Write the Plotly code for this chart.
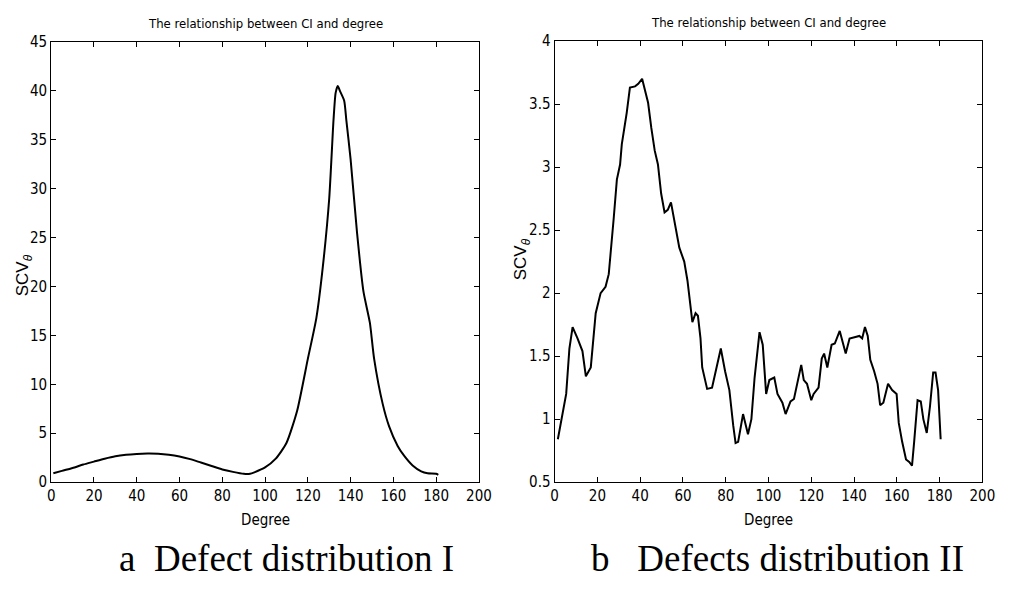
import plotly.graph_objects as go

# ---- data: panel a (Defect distribution I) ----
deg_a = [1, 5, 10, 15, 20, 25, 30, 35, 40, 45, 50, 55, 60, 65, 70, 75, 80, 85, 90, 93,
         95, 100, 105, 110, 115, 120, 124, 127, 130, 132, 133, 134, 135, 137, 138, 140,
         143, 146, 149, 151, 155, 158, 162, 165, 169, 173, 176, 180, 181]
scv_a = [0.9, 1.15, 1.45, 1.8, 2.1, 2.4, 2.65, 2.8, 2.88, 2.92, 2.9, 2.8, 2.62, 2.35, 2.0,
         1.65, 1.3, 1.05, 0.85, 0.85, 1.0, 1.5, 2.4, 4.0, 7.3, 12.6, 16.8, 22.0, 29.0, 37.0,
         39.8, 40.5, 40.0, 39.0, 37.0, 33.0, 25.5, 19.5, 16.3, 12.6, 8.0, 5.7, 3.7, 2.7,
         1.7, 1.1, 0.9, 0.85, 0.75]

# ---- data: panel b (Defects distribution II) ----
deg_b = [1.5, 3.1, 5.4, 6.9, 8.4, 10.7, 13.0, 14.6, 16.9, 19.2, 21.5, 23.8, 25.3, 27.6,
         29.1, 30.6, 31.4, 33.7, 35.2, 37.6, 39.1, 40.9, 43.7, 45.2, 46.8, 48.3, 49.8,
         51.4, 52.9, 54.4, 55.9, 58.3, 60.6, 62.1, 64.4, 65.9, 67.0, 68.2, 69.0, 71.3,
         73.6, 75.9, 77.7, 79.7, 81.7, 83.5, 84.6, 85.8, 88.1, 90.4, 92.0, 93.5, 95.8,
         97.3, 98.9, 100.4, 102.7, 104.2, 106.5, 108.0, 110.3, 111.9, 113.4, 115.3,
         116.5, 118.0, 120.0, 121.1, 123.4, 124.9, 126.0, 127.5, 129.5, 131.0, 133.3,
         136.1, 137.9, 140.2, 142.5, 143.8, 145.1, 146.4, 147.6, 149.4, 151.0, 152.2,
         153.7, 155.9, 157.8, 159.9, 160.9, 162.5, 164.3, 165.8, 167.1, 168.1, 169.7,
         171.2, 172.4, 174.0, 175.5, 177.0, 178.1, 179.3, 180.5]
scv_b = [0.84, 1.0, 1.2, 1.56, 1.73, 1.64, 1.54, 1.34, 1.41, 1.84, 2.0, 2.05, 2.15, 2.59,
         2.9, 3.02, 3.18, 3.43, 3.63, 3.64, 3.66, 3.70, 3.51, 3.31, 3.13, 3.02, 2.79,
         2.64, 2.66, 2.72, 2.59, 2.36, 2.25, 2.1, 1.77, 1.84, 1.82, 1.64, 1.41, 1.24,
         1.25, 1.41, 1.56, 1.38, 1.23, 0.95, 0.81, 0.82, 1.04, 0.88, 1.0, 1.33, 1.69,
         1.59, 1.2, 1.31, 1.33, 1.2, 1.13, 1.04, 1.14, 1.16, 1.28, 1.43, 1.31, 1.28,
         1.15, 1.2, 1.25, 1.48, 1.52, 1.41, 1.59, 1.6, 1.7, 1.52, 1.64, 1.65, 1.66,
         1.64, 1.73, 1.66, 1.47, 1.38, 1.28, 1.11, 1.13, 1.28, 1.23, 1.2, 0.97, 0.82,
         0.68, 0.66, 0.63, 0.82, 1.15, 1.14, 1.0, 0.89, 1.1, 1.37, 1.37, 1.23, 0.84]

title_text = "The relationship between CI and degree"
xlabel = "Degree"
ylabel = "SCV<sub><i>θ</i></sub>"
caption_a = "a&nbsp;&nbsp;Defect distribution I"
caption_b = "b&nbsp;&nbsp;&nbsp;Defects distribution II"

W, H = 1017, 591
NARROW = "DejaVu Sans Condensed, Liberation Sans Narrow, Arial Narrow, sans-serif"
SANS = "Liberation Sans, Arial, sans-serif"
SERIF = "Liberation Serif, Times New Roman, serif"

def px(x):
    return x / W

def py(y):
    return (H - y) / H

fig = go.Figure()
fig.add_trace(go.Scatter(x=deg_a, y=scv_a, mode="lines",
                         line=dict(color="black", width=2, shape="spline", smoothing=0.6),
                         xaxis="x", yaxis="y", showlegend=False))
fig.add_trace(go.Scatter(x=deg_b, y=scv_b, mode="lines", line=dict(color="black", width=2),
                         xaxis="x2", yaxis="y2", showlegend=False))

axis_common = dict(showline=True, linecolor="black", linewidth=1.2, mirror="ticks",
                   ticks="inside", ticklen=5, tickcolor="black", showgrid=False,
                   zeroline=False, tickfont=dict(family=NARROW, size=15, color="black"))

fig.update_layout(
    width=W, height=H,
    margin=dict(l=0, r=0, t=0, b=0),
    paper_bgcolor="white", plot_bgcolor="white",
    xaxis=dict(domain=[px(48), px(483)], range=[0, 200], dtick=20, anchor="y", **axis_common),
    yaxis=dict(domain=[py(488), py(34)], range=[0, 45], dtick=5, anchor="x", **axis_common),
    xaxis2=dict(domain=[px(560), px(995)], range=[0, 200], dtick=20, anchor="y2", **axis_common),
    yaxis2=dict(domain=[py(488), py(33)], range=[0.5, 4], dtick=0.5, anchor="x2", **axis_common),
)

ann = []
for cx, cy_title in [(265.5, 15), (777.5, 14)]:
    ann.append(dict(text=title_text, x=px(cx), y=py(cy_title), xref="paper", yref="paper",
                    showarrow=False, xanchor="center", yanchor="middle",
                    font=dict(family=NARROW, size=13, color="black")))
    ann.append(dict(text=xlabel, x=px(cx), y=py(527), xref="paper", yref="paper",
                    showarrow=False, xanchor="center", yanchor="middle",
                    font=dict(family=NARROW, size=15, color="black")))
ann.append(dict(text=ylabel, x=px(20), y=py(275), xref="paper", yref="paper",
                showarrow=False, xanchor="center", yanchor="middle", textangle=-90,
                font=dict(family=SANS, size=17, color="black")))
ann.append(dict(text=ylabel, x=px(527), y=py(258), xref="paper", yref="paper",
                showarrow=False, xanchor="center", yanchor="middle", textangle=-90,
                font=dict(family=SANS, size=17, color="black")))
ann.append(dict(text=caption_a, x=px(287), y=py(567), xref="paper", yref="paper",
                showarrow=False, xanchor="center", yanchor="middle",
                font=dict(family=SERIF, size=37, color="black")))
ann.append(dict(text=caption_b, x=px(787), y=py(567), xref="paper", yref="paper",
                showarrow=False, xanchor="center", yanchor="middle",
                font=dict(family=SERIF, size=37, color="black")))
fig.update_layout(annotations=ann)

fig.write_html("out.html")
